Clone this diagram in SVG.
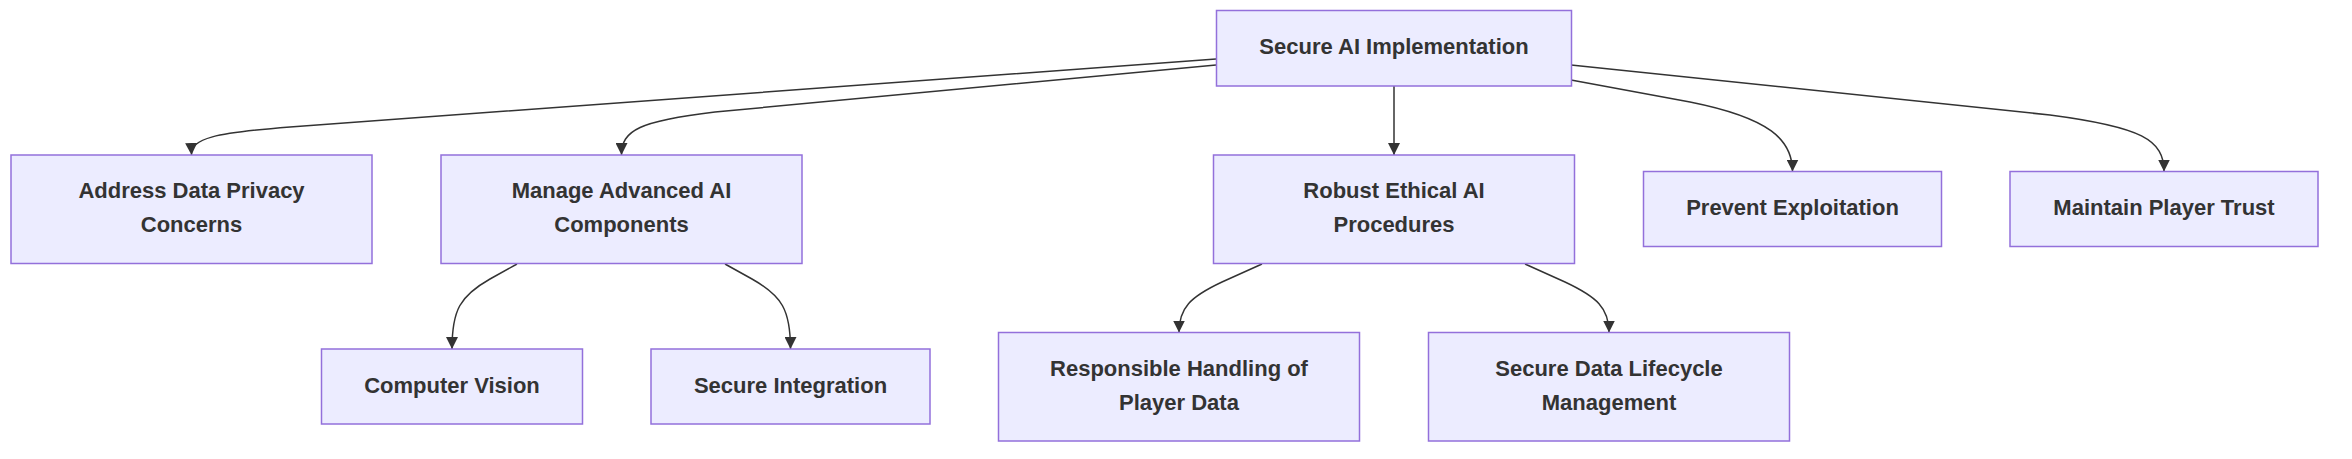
<svg xmlns="http://www.w3.org/2000/svg" width="2352" height="459" viewBox="0 0 2352 459">
<style>
.node rect{fill:#ECECFF;stroke:#9370DB;stroke-width:1.5}
.node text{font-family:"Liberation Sans",Arial,sans-serif;font-weight:bold;font-size:22px;fill:#333;text-anchor:middle}
.edge{fill:none;stroke:#333;stroke-width:1.5;marker-end:url(#arrow)}
</style>
<defs>
<marker id="arrow" viewBox="0 0 10 10" refX="10" refY="5" markerWidth="12" markerHeight="12" markerUnits="userSpaceOnUse" orient="auto"><path d="M0,0 L10,5 L0,10 z" fill="#333"/></marker>
</defs>
<rect width="2352" height="459" fill="#fff"/>
<g id="edges">
<path class="edge" d="M1216,59 L290,127 C215,133 191,138 191.5,155"/>
<path class="edge" d="M1216,65 L715,112 C640,121 621.5,130 621.5,155"/>
<path class="edge" d="M1394,86 L1394,155"/>
<path class="edge" d="M1571,80 L1690,102 C1770,118 1792.5,140 1792.5,171.5"/>
<path class="edge" d="M1571,65 L2050,115 C2142,127 2164,140 2164,171.5"/>
<path class="edge" d="M517,264 L490,279 C460,296 452,310 452,349"/>
<path class="edge" d="M725,264 L752,279 C782,296 790.5,310 790.5,349"/>
<path class="edge" d="M1262,264 L1222,282 C1190,297 1179,308 1179,332.5"/>
<path class="edge" d="M1525,264 L1565,282 C1597,297 1609,308 1609,332.5"/>
</g>
<g id="n-secure" class="node"><rect x="1216.5" y="10.5" width="355" height="75.5"/><text x="1394" y="54">Secure AI Implementation</text></g>
<g id="n-address" class="node"><rect x="11" y="155" width="361" height="108.5"/><text x="191.5" y="198">Address Data Privacy</text><text x="191.5" y="232">Concerns</text></g>
<g id="n-manage" class="node"><rect x="441" y="155" width="361" height="108.5"/><text x="621.5" y="198">Manage Advanced AI</text><text x="621.5" y="232">Components</text></g>
<g id="n-robust" class="node"><rect x="1213.5" y="155" width="361" height="108.5"/><text x="1394" y="198">Robust Ethical AI</text><text x="1394" y="232">Procedures</text></g>
<g id="n-prevent" class="node"><rect x="1643.5" y="171.5" width="298" height="75"/><text x="1792.5" y="215">Prevent Exploitation</text></g>
<g id="n-maintain" class="node"><rect x="2010" y="171.5" width="308" height="75"/><text x="2164" y="215">Maintain Player Trust</text></g>
<g id="n-cv" class="node"><rect x="321.5" y="349" width="261" height="75"/><text x="452" y="392.5">Computer Vision</text></g>
<g id="n-si" class="node"><rect x="651" y="349" width="279" height="75"/><text x="790.5" y="392.5">Secure Integration</text></g>
<g id="n-resp" class="node"><rect x="998.5" y="332.5" width="361" height="108.5"/><text x="1179" y="376">Responsible Handling of</text><text x="1179" y="410">Player Data</text></g>
<g id="n-life" class="node"><rect x="1428.5" y="332.5" width="361" height="108.5"/><text x="1609" y="376">Secure Data Lifecycle</text><text x="1609" y="410">Management</text></g>
</svg>
